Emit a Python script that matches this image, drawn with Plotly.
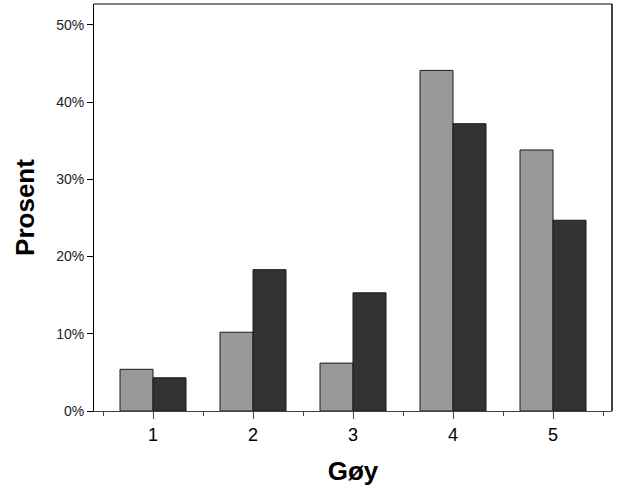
import plotly.graph_objects as go

categories = [1, 2, 3, 4, 5]
series_light = [5.4, 10.2, 6.2, 44.1, 33.8]
series_dark = [4.3, 18.3, 15.3, 37.2, 24.7]
y_ticks = [0, 10, 20, 30, 40, 50]
y_tick_labels = ["0%", "10%", "20%", "30%", "40%", "50%"]

fig = go.Figure()
fig.add_trace(go.Bar(x=categories, y=series_light, marker=dict(color="#999999", line=dict(color="#1a1a1a", width=1)), showlegend=False))
fig.add_trace(go.Bar(x=categories, y=series_dark, marker=dict(color="#333333", line=dict(color="#1a1a1a", width=1)), showlegend=False))

fig.update_layout(
    width=626, height=501,
    margin=dict(l=94, r=14, t=4, b=90),
    paper_bgcolor="white", plot_bgcolor="white",
    barmode="group", bargap=0.34, bargroupgap=0,
    font=dict(family="Liberation Sans, Arial", color="black"),
    xaxis=dict(
        range=[0.41, 5.59], tickvals=categories, ticktext=[str(c) for c in categories],
        ticks="outside", ticklen=7, tickcolor="#444444", tickfont=dict(size=18),
        showline=True, linecolor="#444444", linewidth=1, showgrid=False, zeroline=False,
        minor=dict(tickvals=[0.5, 1.5, 2.5, 3.5, 4.5, 5.5], ticks="outside", ticklen=4, tickcolor="#444444"),
        title=dict(text="<b>Gøy</b>", font=dict(size=26), standoff=18),
    ),
    yaxis=dict(
        range=[0, 52.7], tickvals=y_ticks, ticktext=y_tick_labels,
        ticks="outside", ticklen=6, tickcolor="black", tickfont=dict(size=14, color="#222222"),
        showline=True, linecolor="black", linewidth=1, showgrid=False, zeroline=False,
        title=dict(text="<b>Prosent</b>", font=dict(size=26), standoff=14),
    ),
    shapes=[
        dict(type="line", xref="paper", yref="paper", x0=0, x1=1, y0=1, y1=1, line=dict(color="#808080", width=2)),
        dict(type="line", xref="paper", yref="paper", x0=1, x1=1, y0=0, y1=1, line=dict(color="black", width=1.5)),
    ],
)

fig.write_html("out.html")
